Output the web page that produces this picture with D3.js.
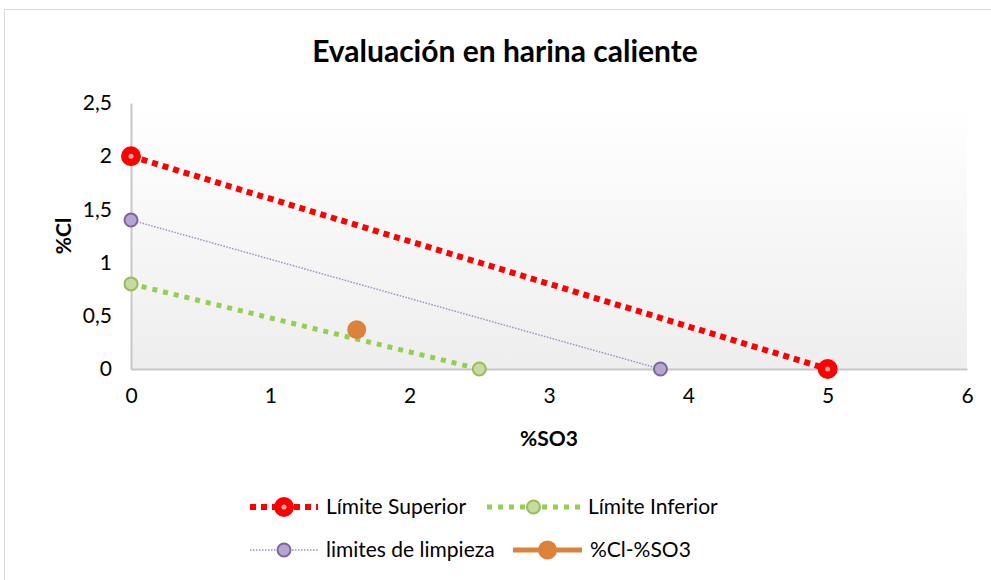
<!DOCTYPE html>
<html lang="es">
<head>
<meta charset="UTF-8">
<script src="https://cdn.jsdelivr.net/npm/d3@7"></script>
<title>index</title>
<style>
  body { margin: 0; background: #fff; }
  text { font-family: Lato, "Open Sans", sans-serif; fill: #000; }
</style>
</head>
<body>
<div id="chart"></div>
<script>
// series data
var superior = [[0, 2], [5, 0]];
var inferior = [[0, 0.8], [2.5, 0]];
var limpieza = [[0, 1.4], [3.8, 0]];
var muestra = [[1.62, 0.37]];

var xTicks = [0, 1, 2, 3, 4, 5, 6];
var yTicks = [0, 0.5, 1, 1.5, 2, 2.5];

var series = [
  { name: 'Límite Superior', data: superior, color: '#ff0000', width: 6, dash: '6 5', r: 8, fill: '#ff0000', stroke: '#ff0000', sw: 4 },
  { name: 'Límite Inferior', data: inferior, color: '#92d050', width: 5, dash: '5 6', r: 6.5, fill: '#c5dba0', stroke: '#9bbb59', sw: 2 },
  { name: 'limites de limpieza', data: limpieza, color: '#a08cc4', width: 1.5, dash: '1.5 1.5', r: 6.5, fill: '#b6a6cf', stroke: '#8064a2', sw: 2 },
  { name: '%Cl-%SO3', data: muestra, color: '#dc823a', width: 5, dash: null, r: 9.5, fill: '#dc823a', stroke: '#dc823a', sw: 0 }
];

var width = 991, height = 580;
var svg = d3.select('#chart').append('svg')
  .attr('width', width).attr('height', height);

var defs = svg.append('defs');
var grad = defs.append('linearGradient').attr('id', 'bg')
  .attr('x1', 0).attr('y1', 0).attr('x2', 0).attr('y2', 1);
grad.append('stop').attr('offset', '0%').attr('stop-color', '#ffffff');
grad.append('stop').attr('offset', '100%').attr('stop-color', '#eeeeee');

// outer frame
svg.append('rect').attr('x', 4.5).attr('y', 9.5).attr('width', 1000).attr('height', 600)
  .attr('fill', '#fff').attr('stroke', '#d9d9d9');

var x = d3.scaleLinear().domain([0, 6]).range([131, 967]);
var y = d3.scaleLinear().domain([0, 2.5]).range([369, 103]);

svg.append('rect')
  .attr('x', x(0)).attr('y', y(2.5))
  .attr('width', x(6) - x(0)).attr('height', y(0) - y(2.5))
  .attr('fill', 'url(#bg)');

var xAxis = svg.append('g').attr('transform', 'translate(0,' + y(0) + ')')
  .call(d3.axisBottom(x).tickValues(xTicks).tickSize(0).tickPadding(19).tickFormat(d3.format('d')));
var yAxis = svg.append('g').attr('transform', 'translate(' + x(0) + ',0)')
  .call(d3.axisLeft(y).tickValues(yTicks).tickSize(0).tickPadding(19)
    .tickFormat(function(d) { return String(d).replace('.', ','); }));
[xAxis, yAxis].forEach(function(a) {
  a.select('.domain').attr('stroke', '#c8c8c8').attr('stroke-width', 2);
  a.selectAll('text').style('font-size', '21px').style('font-family', 'Lato, sans-serif');
});
xAxis.selectAll('text').attr('dy', '0.71em');

// title and axis titles
svg.append('text').attr('x', 505).attr('y', 62).attr('text-anchor', 'middle')
  .style('font-size', '30px').style('font-weight', 'bold').text('Evaluación en harina caliente');
svg.append('text').attr('x', (x(0) + x(6)) / 2).attr('y', 446).attr('text-anchor', 'middle')
  .style('font-size', '21px').style('font-weight', 'bold').text('%SO3');
svg.append('text').attr('transform', 'translate(71,' + (y(1.25)) + ') rotate(-90)')
  .attr('text-anchor', 'middle')
  .style('font-size', '21px').style('font-weight', 'bold').text('%Cl');

var line = d3.line().x(function(d) { return x(d[0]); }).y(function(d) { return y(d[1]); });

function drawMarker(g, s, cx, cy) {
  g.append('circle').attr('cx', cx).attr('cy', cy).attr('r', s.r)
    .attr('fill', s.fill).attr('stroke', s.stroke).attr('stroke-width', s.sw);
  if (s.name === 'Límite Superior') {
    g.append('circle').attr('cx', cx).attr('cy', cy).attr('r', 2.5).attr('fill', '#f2a8a8');
  }
}

series.forEach(function(s) {
  var g = svg.append('g');
  if (s.data.length > 1) {
    g.append('path').datum(s.data).attr('d', line)
      .attr('fill', 'none').attr('stroke', s.color).attr('stroke-width', s.width)
      .attr('stroke-dasharray', s.dash);
  }
  s.data.forEach(function(d) { drawMarker(g, s, x(d[0]), y(d[1])); });
});

// legend
var legendPos = [[250, 507, 68], [487, 507, 93], [250, 550, 68], [513, 550, 69]];
series.forEach(function(s, i) {
  var p = legendPos[i];
  var g = svg.append('g');
  g.append('line').attr('x1', p[0]).attr('x2', p[0] + p[2]).attr('y1', p[1]).attr('y2', p[1])
    .attr('stroke', s.color).attr('stroke-width', s.width).attr('stroke-dasharray', s.dash);
  drawMarker(g, s, p[0] + p[2] / 2, p[1]);
  g.append('text').attr('x', p[0] + p[2] + 8).attr('y', p[1]).attr('dy', '0.35em')
    .style('font-size', '21px').text(s.name);
});
</script>
</body>
</html>
